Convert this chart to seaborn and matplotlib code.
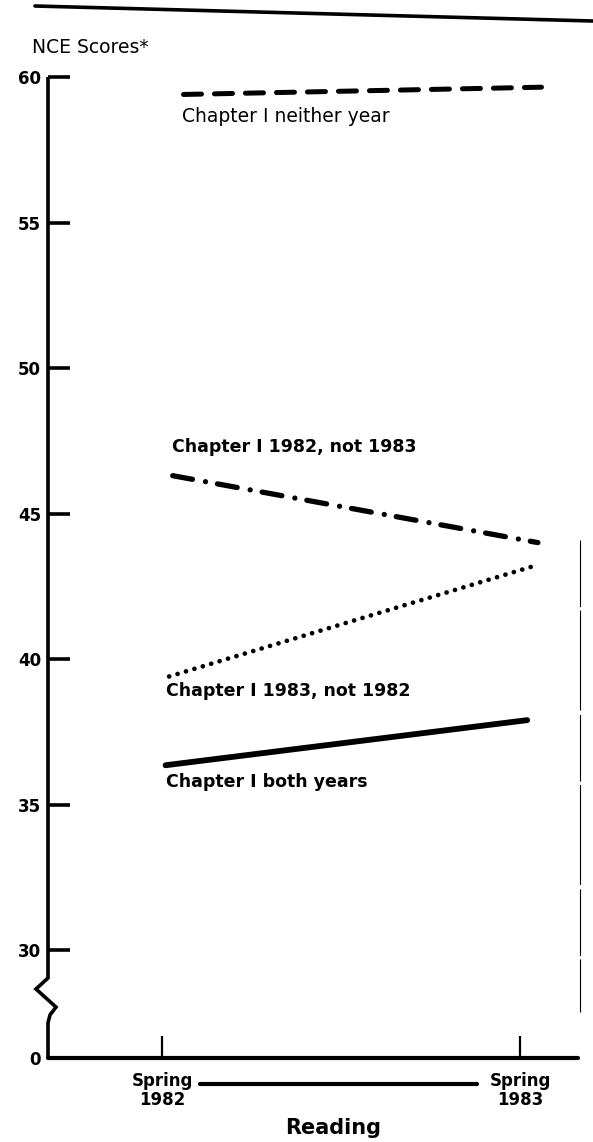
import matplotlib
matplotlib.use("Agg")
import matplotlib.pyplot as plt
from matplotlib.lines import Line2D
import matplotlib.transforms as mtransforms
import seaborn as sns
import pandas as pd

# ---------------- data ----------------
series_names = ["Chapter I neither year", "Chapter I 1982, not 1983",
                "Chapter I 1983, not 1982", "Chapter I both years"]
x_neither = [1982.06, 1983.06]
y_neither = [59.4, 59.65]
x_82not83 = [1982.03, 1983.05]
y_82not83 = [46.3, 44.0]
x_83not82 = [1982.02, 1983.04]
y_83not82 = [39.4, 43.2]
x_both = [1982.01, 1983.02]
y_both = [36.35, 37.9]

x_ticks = [1982, 1983]
x_ticklabels = ["Spring\n1982", "Spring\n1983"]
y_axis_zero = 26.29           # position of the broken-axis "0"
y_ticks = [y_axis_zero, 30, 35, 40, 45, 50, 55, 60]
y_ticklabels = ["0", "30", "35", "40", "45", "50", "55", "60"]
y_label = "NCE Scores*"
x_label = "Reading"

# ---------------- style ----------------
sns.set_theme(style="white")
plt.rcParams["font.family"] = ["DejaVu Sans"]

W, H = 593, 1142
fig = plt.figure(figsize=(W / 100, H / 100), dpi=100)
ax = fig.add_axes([48 / W, (H - 1058) / H, 530 / W, 981 / H])

df = pd.DataFrame({
    "x": x_neither + x_82not83 + x_83not82 + x_both,
    "y": y_neither + y_82not83 + y_83not82 + y_both,
    "group": [series_names[0]] * 2 + [series_names[1]] * 2 +
             [series_names[2]] * 2 + [series_names[3]] * 2,
})

styles = {
    series_names[0]: dict(lw=3.6, dashes=(3.6, 2.6)),
    series_names[1]: dict(lw=3.8, dashes=(3.8, 2.5, 0.01, 2.3)),
    series_names[2]: dict(lw=3.4, dashes=(0.01, 1.85)),
    series_names[3]: dict(lw=4.2, dashes=None),
}

for name in series_names:
    sub = df[df["group"] == name]
    st = styles[name]
    sns.lineplot(data=sub, x="x", y="y", ax=ax, color="black",
                 lw=st["lw"], legend=False, estimator=None, sort=False)
    ln = ax.lines[-1]
    if st["dashes"] is not None:
        ln.set_dashes(st["dashes"])
        ln.set_dash_capstyle("round")
    else:
        ln.set_solid_capstyle("round")

ax.set_xlim(1981.6816, 1983.162)
ax.set_ylim(y_axis_zero, 60)

# axes / spines
sns.despine(ax=ax, top=True, right=True, left=True)
ax.spines["bottom"].set_linewidth(3.0)
ax.spines["bottom"].set_color("black")
ax.spines["bottom"].set_capstyle("round")

# custom left spine with axis-break zigzag (axes x, data y)
trans = mtransforms.blended_transform_factory(ax.transAxes, ax.transData)
zx = [0, 0, -12 / 530, 8 / 530, 2 / 530, 0, 0]
zy = [60, 29.04, 28.66, 28.04, 27.77, 27.5, y_axis_zero]
ax.add_line(Line2D(zx, zy, transform=trans, color="black", lw=2.6,
                   clip_on=False, solid_joinstyle="miter",
                   solid_capstyle="butt"))

ax.set_yticks(y_ticks)
ax.set_yticklabels(y_ticklabels, fontsize=12, fontweight="bold")
ax.set_xticks(x_ticks)
ax.set_xticklabels(x_ticklabels, fontsize=12, fontweight="bold",
                   linespacing=1.1)
ax.tick_params(axis="y", direction="in", length=15.5, width=2.6,
               pad=5, colors="black", left=True)
ax.tick_params(axis="x", direction="in", length=16, width=1.6,
               pad=10, colors="black", bottom=True)
ax.set_xlabel("")
ax.set_ylabel("")
ax.grid(False)

# ---------------- texts ----------------
def ftext(x, y, s, **kw):
    fig.text(x / W, 1 - y / H, s, va="baseline", color="black", **kw)

ftext(32, 53, y_label, fontsize=13.5)
ftext(182, 122, series_names[0], fontsize=13.5)
ftext(172, 452, series_names[1], fontsize=12.5, fontweight="bold")
ftext(166, 696, series_names[2], fontsize=12.5, fontweight="bold")
ftext(166, 787, series_names[3], fontsize=12.5, fontweight="bold")
ftext(333, 1134, x_label, fontsize=15, fontweight="bold", ha="center")

# decorative lines of the original page
fig.add_artist(Line2D([35 / W, 1.0], [1 - 6 / H, 1 - 21 / H],
                      transform=fig.transFigure, color="black", lw=2.6))
fig.add_artist(Line2D([200 / W, 477 / W], [1 - 1084 / H, 1 - 1084 / H],
                      transform=fig.transFigure, color="black", lw=3.0,
                      solid_capstyle="round"))
fig.add_artist(Line2D([580 / W, 580 / W], [1 - 540 / H, 1 - 1012 / H],
                      transform=fig.transFigure, color="black", lw=0.8,
                      dashes=(60, 3, 90, 4)))

fig.savefig("out.png", dpi=100, facecolor="white")
